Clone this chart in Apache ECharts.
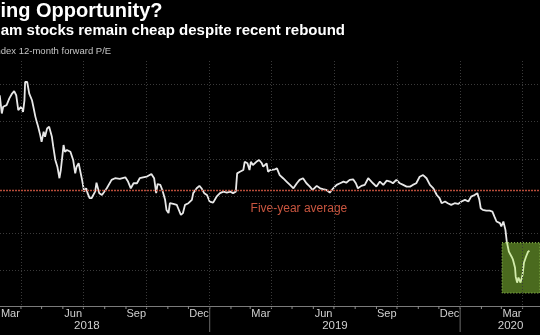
<!DOCTYPE html>
<html>
<head>
<meta charset="utf-8">
<script src="https://cdn.jsdelivr.net/npm/echarts@6/dist/echarts.min.js"></script>
<style>
  html, body { margin: 0; padding: 0; background: #000; }
  #chart { width: 540px; height: 335px; }
</style>
</head>
<body>
<div id="chart"></div>
<script>
// VN Index 12-month forward P/E, sampled roughly every few days
const dates = [
  '2018-03-01','2018-03-04','2018-03-06','2018-03-11','2018-03-15','2018-03-19','2018-03-22','2018-03-25','2018-03-28',
  '2018-04-01','2018-04-04','2018-04-06','2018-04-07','2018-04-10','2018-04-13','2018-04-17','2018-04-19','2018-04-22',
  '2018-04-24','2018-04-26','2018-04-29','2018-05-01','2018-05-04','2018-05-06','2018-05-09','2018-05-12','2018-05-16',
  '2018-05-18','2018-05-21','2018-05-24','2018-05-27','2018-05-29','2018-06-02','2018-06-04','2018-06-07','2018-06-12',
  '2018-06-14','2018-06-16','2018-06-19','2018-06-21','2018-06-24','2018-06-26','2018-06-29','2018-07-02','2018-07-05',
  '2018-07-07','2018-07-10','2018-07-13','2018-07-18','2018-07-20','2018-07-24','2018-07-28','2018-08-04','2018-08-11',
  '2018-08-16','2018-08-23','2018-08-31','2018-09-04','2018-09-08','2018-09-12','2018-09-17','2018-09-21','2018-10-01',
  '2018-10-08','2018-10-12','2018-10-15','2018-10-17','2018-10-21','2018-10-24','2018-10-28','2018-10-30','2018-11-02',
  '2018-11-04','2018-11-09','2018-11-14','2018-11-16','2018-11-20','2018-11-23','2018-11-26','2018-12-01','2018-12-06',
  '2018-12-08','2018-12-13','2018-12-17','2018-12-20','2018-12-24','2018-12-28','2019-01-01','2019-01-06','2019-01-11',
  '2019-01-16','2019-01-21','2019-01-26','2019-01-31','2019-02-04','2019-02-08','2019-02-10','2019-02-14','2019-02-19',
  '2019-02-21','2019-02-25','2019-02-28','2019-03-02','2019-03-05','2019-03-10','2019-03-14','2019-03-18','2019-03-20',
  '2019-03-25','2019-03-27','2019-03-30','2019-04-06','2019-04-09','2019-04-13','2019-04-18','2019-04-23','2019-04-28',
  '2019-05-03','2019-05-08','2019-05-12','2019-05-17','2019-05-22','2019-05-27','2019-05-31','2019-06-06','2019-06-11',
  '2019-06-15','2019-06-20','2019-06-25','2019-06-30','2019-07-05','2019-07-10','2019-07-15','2019-07-19','2019-07-24',
  '2019-07-29','2019-08-02','2019-08-05','2019-08-10','2019-08-15','2019-08-20','2019-08-22','2019-08-27','2019-09-01',
  '2019-09-06','2019-09-11','2019-09-16','2019-09-21','2019-09-25','2019-09-30','2019-10-05','2019-10-10','2019-10-15',
  '2019-10-20','2019-10-24','2019-10-29','2019-11-03','2019-11-08','2019-11-13','2019-11-18','2019-11-23','2019-11-28',
  '2019-12-02','2019-12-05','2019-12-10','2019-12-14','2019-12-19','2019-12-24','2019-12-29','2020-01-03','2020-01-08',
  '2020-01-13','2020-01-17','2020-01-22','2020-01-26','2020-01-29','2020-01-31','2020-02-03','2020-02-08','2020-02-13',
  '2020-02-17','2020-02-20','2020-02-23','2020-02-28','2020-03-01','2020-03-04','2020-03-06','2020-03-07','2020-03-09',
  '2020-03-12','2020-03-16','2020-03-18','2020-03-21','2020-03-22','2020-03-24','2020-03-26','2020-03-28','2020-03-29',
  '2020-04-01','2020-04-03','2020-04-06','2020-04-09','2020-04-11'
];
const peValues = [
  19.41,18.43,18.79,18.88,19.24,19.50,19.63,19.41,18.61,
  18.79,18.52,19.14,20.12,20.12,19.50,19.14,18.79,18.25,
  17.98,17.72,17.27,16.91,17.45,17.18,17.63,17.72,17.18,
  16.65,15.94,15.58,14.96,15.40,16.74,16.38,16.47,16.38,
  16.47,15.94,15.22,15.58,15.76,15.40,14.87,14.24,14.42,
  14.16,13.89,13.90,14.24,14.72,14.16,14.06,14.42,14.87,
  14.96,14.92,15.01,14.78,14.42,14.69,14.69,14.96,15.04,
  15.19,14.96,14.16,14.65,14.60,14.33,13.80,13.26,13.09,
  13.62,13.58,13.53,13.35,12.99,13.09,13.53,13.62,13.80,
  14.16,14.42,14.55,14.42,14.16,14.06,13.71,13.65,13.97,
  14.16,14.24,14.19,14.24,14.16,14.24,15.22,15.31,15.40,
  15.84,15.76,15.40,15.84,15.67,15.84,15.94,15.76,15.58,
  15.76,15.31,15.40,15.44,15.49,15.13,14.96,14.78,14.60,
  14.42,14.69,14.87,14.96,14.69,14.51,14.33,14.55,14.42,
  14.37,14.33,14.19,14.42,14.60,14.69,14.78,14.72,14.87,
  14.90,14.69,14.42,14.55,14.60,14.96,15.04,14.69,14.51,
  14.78,14.60,14.83,14.78,14.69,14.87,14.69,14.60,14.51,
  14.51,14.60,14.69,15.04,15.13,14.96,14.60,14.42,14.06,
  13.89,13.62,13.71,13.62,13.53,13.62,13.58,13.71,13.80,
  13.71,13.97,14.06,14.16,13.80,13.35,13.26,13.22,13.22,
  13.17,12.90,12.64,12.55,12.37,12.64,12.55,12.19,11.55,
  11.02,10.75,10.59,10.16,9.68,9.36,9.63,9.68,9.36,
  9.79,10.43,10.75,11.02,11.07
];

const FIVE_YEAR_AVG = 14.3;
const AVG_LABEL_AT = '2019-05-11';

// highlighted rebound zone
const zoneFrom = '2020-03-02';
const zoneTo = '2020-05-31';
const zoneHigh = 11.5;
const zoneLow = 8.8;

const quarterStarts = [
  '2018-04-01','2018-07-01','2018-10-01','2019-01-01','2019-04-01',
  '2019-07-01','2019-10-01','2020-01-01','2020-04-01'
];
const monthNames = ['', '', 'Mar', '', '', 'Jun', '', '', 'Sep', '', '', 'Dec'];
const yearLabels = ['2018', '2019', '2020'];

// visible window of the time axis
const AXIS_MIN = new Date(2018, 2, 1, 9).getTime();
const AXIS_MAX = new Date(2020, 3, 26, 9).getTime();
// full span the year labels are centred over
const SPAN_START = new Date(2018, 0, 8).getTime();
const SPAN_END = new Date(2020, 4, 27).getTime();

const Y_MIN = 8;
const Y_MAX = 21.3;
const AXIS_LIFT = 2;

const FONT = '"Liberation Sans", Arial, sans-serif';

const seriesData = dates.map((d, i) => [d, peValues[i]]);
// the part of the line that runs inside the highlighted zone is tinted green
let zoneEntry = peValues.findIndex(v => v < zoneHigh + 0.1);
if (zoneEntry < 0) zoneEntry = peValues.length - 1;
const mainPart = seriesData.slice(0, zoneEntry + 1);
const zonePart = seriesData.slice(zoneEntry);

const monthItems = [];
for (let y = 2018; y <= 2020; y++) {
  for (let m = 0; m < 12; m++) {
    const s = new Date(y, m, 1).getTime();
    const e = new Date(y, m + 1, 1).getTime();
    if (e <= AXIS_MIN || s >= AXIS_MAX) continue;
    monthItems.push([s, Y_MIN, e, m]);
  }
}
const yearItems = yearLabels.map(label => {
  const y = Number(label);
  const s = Math.max(new Date(y, 0, 1).getTime(), SPAN_START);
  const e = Math.min(new Date(y + 1, 0, 1).getTime(), SPAN_END);
  return [s, Y_MIN, e, y];
});

function renderMonth(params, api) {
  const start = api.value(0);
  const end = api.value(2);
  const month = api.value(3);
  const p0 = api.coord([start, Y_MIN]);
  const p1 = api.coord([end, Y_MIN]);
  const axisY = p0[1] - AXIS_LIFT;
  const children = [];
  if (start >= AXIS_MIN) {
    children.push({
      type: 'line',
      shape: { x1: p0[0], y1: axisY, x2: p0[0], y2: axisY + 3 },
      style: { stroke: '#8c8c8c', lineWidth: 1 }
    });
  }
  const name = monthNames[month];
  if (name) {
    children.push({
      type: 'text',
      x: (p0[0] + p1[0]) / 2,
      y: axisY + 7.5,
      style: { text: name, fill: '#d0d0d0', font: '11px ' + FONT, align: 'center', verticalAlign: 'middle' }
    });
  }
  return { type: 'group', children };
}

function renderYear(params, api) {
  const start = api.value(0);
  const end = api.value(2);
  const p0 = api.coord([start, Y_MIN]);
  const p1 = api.coord([end, Y_MIN]);
  const axisY = p0[1] - AXIS_LIFT;
  const children = [];
  if (start > SPAN_START) {
    children.push({
      type: 'line',
      shape: { x1: p0[0], y1: axisY, x2: p0[0], y2: axisY + 26 },
      style: { stroke: '#6a6a6a', lineWidth: 1 }
    });
  }
  children.push({
    type: 'text',
    x: (p0[0] + p1[0]) / 2,
    y: axisY + 20,
    style: { text: yearLabels[params.dataIndex], fill: '#d0d0d0', font: '11.5px ' + FONT, align: 'center', verticalAlign: 'middle' }
  });
  return { type: 'group', children };
}

const titleGraphics = [
  { id: 'title', type: 'text', x: -37.4, y: 11.5, silent: true,
    style: { text: 'Buying Opportunity?', fill: '#ffffff', font: 'bold 20px ' + FONT, verticalAlign: 'middle' } },
  { id: 'subtitle', type: 'text', x: -35.7, y: 30.5, silent: true,
    style: { text: 'Vietnam stocks remain cheap despite recent rebound', fill: '#ffffff', font: 'bold 15px ' + FONT, verticalAlign: 'middle' } },
  { id: 'measure', type: 'text', x: -23, y: 51.5, silent: true,
    style: { text: 'VN Index 12-month forward P/E', fill: '#c4c4c4', font: '9.5px ' + FONT, verticalAlign: 'middle' } }
];

const chart = echarts.init(document.getElementById('chart'));
chart.setOption({
  animation: false,
  backgroundColor: '#000',
  graphic: titleGraphics,
  grid: { left: 0, right: 0, top: 60, bottom: 27 },
  xAxis: {
    type: 'time',
    min: AXIS_MIN,
    max: AXIS_MAX,
    offset: -AXIS_LIFT,
    axisLine: { show: true, lineStyle: { color: '#7a7a7a', width: 1 } },
    axisTick: { show: false },
    axisLabel: { show: false },
    splitLine: { show: false }
  },
  yAxis: {
    type: 'value',
    min: Y_MIN,
    max: Y_MAX,
    interval: 2,
    axisLine: { show: false },
    axisTick: { show: false },
    axisLabel: { show: false },
    splitLine: {
      show: true,
      showMinLine: false,
      showMaxLine: false,
      lineStyle: { color: '#3a3a3a', width: 1, type: [1, 2] }
    }
  },
  series: [
    {
      type: 'line',
      data: [],
      z: 1,
      silent: true,
      markLine: {
        silent: true,
        symbol: 'none',
        label: { show: false },
        lineStyle: { color: '#3a3a3a', width: 1, type: [1, 2] },
        data: quarterStarts.map(d => ({ xAxis: d }))
      }
    },
    {
      type: 'line',
      data: [],
      z: 1,
      silent: true,
      markArea: {
        silent: true,
        itemStyle: { color: '#4a6a1e', borderColor: '#9fcf5f', borderWidth: 1, borderType: [1, 2] },
        data: [[{ xAxis: zoneFrom, yAxis: zoneHigh }, { xAxis: zoneTo, yAxis: zoneLow }]]
      }
    },
    {
      type: 'line',
      data: mainPart,
      z: 3,
      silent: true,
      showSymbol: false,
      symbol: 'none',
      lineStyle: { width: 1.8, color: '#e8e8e8' },
      markLine: {
        silent: true,
        symbol: 'none',
        label: { show: false },
        lineStyle: { color: '#b84c3a', width: 1.3, type: [2, 1] },
        data: [{ yAxis: FIVE_YEAR_AVG }]
      }
    },
    {
      type: 'line',
      data: zonePart,
      z: 3,
      silent: true,
      showSymbol: false,
      symbol: 'none',
      lineStyle: { width: 1.8, color: '#d2ecaa' }
    },
    {
      type: 'custom',
      silent: true,
      clip: false,
      encode: { x: 0, y: 1 },
      renderItem: renderMonth,
      data: monthItems,
      z: 4
    },
    {
      type: 'custom',
      silent: true,
      clip: false,
      encode: { x: 0, y: 1 },
      renderItem: renderYear,
      data: yearItems,
      z: 4
    }
  ]
});

// "Five-year average" caption sits just under the average line
const avgPoint = chart.convertToPixel({ gridIndex: 0 }, [AVG_LABEL_AT, FIVE_YEAR_AVG]);
chart.setOption({
  graphic: titleGraphics.concat([{
    id: 'avgLabel', type: 'text', x: avgPoint[0], y: avgPoint[1] + 18, silent: true,
    style: { text: 'Five-year average', fill: '#c8553f', font: '12px ' + FONT, align: 'center', verticalAlign: 'middle' }
  }])
});
</script>
</body>
</html>
